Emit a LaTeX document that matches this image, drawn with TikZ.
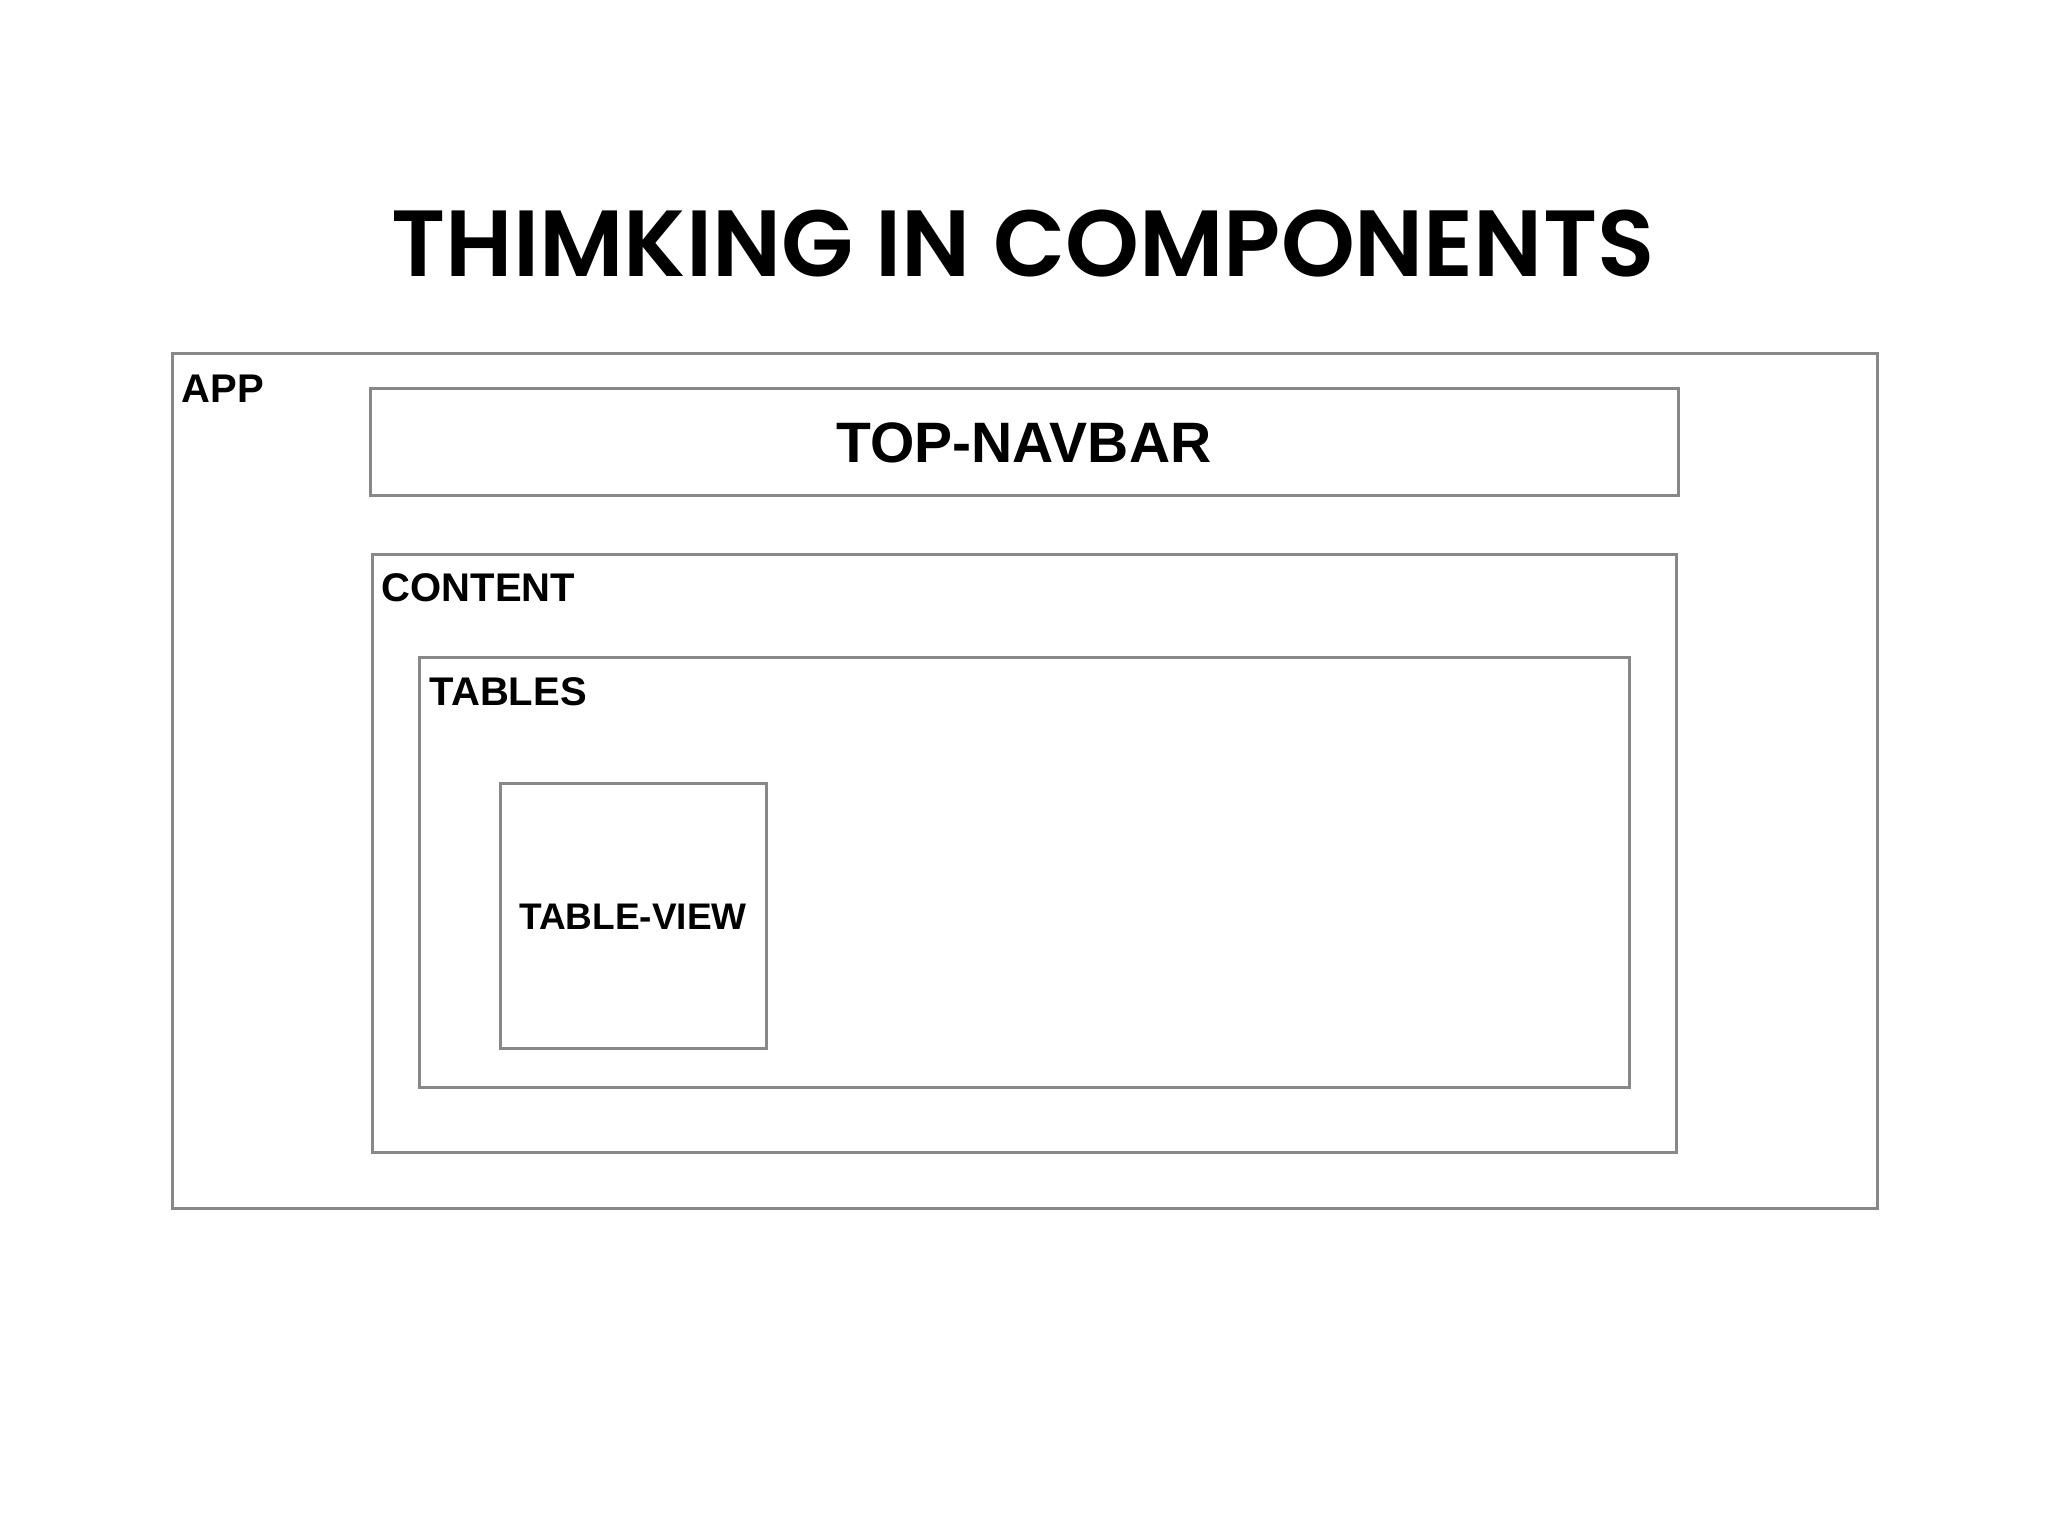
\documentclass[tikz,border=0pt]{standalone}
\usepackage{fontspec}
\setmainfont{Liberation Sans}
\newfontfamily\titlefont{Poppins}[UprightFont={* SemiBold}]
\definecolor{boxgray}{HTML}{888888}
\begin{document}
\begin{tikzpicture}[x=1pt, y=1pt,
    box/.style={draw=boxgray, line width=3pt, inner sep=0pt},
    lbl/.style={inner sep=0pt, anchor=base west, font=\bfseries\fontsize{40}{48}\selectfont}]
    \useasboundingbox (0,0) rectangle (2048,1536);

    \node[inner sep=0pt, anchor=base, font=\titlefont\fontsize{94}{108}\selectfont] (title) at (1023,1259) {THIMKING IN COMPONENTS};

    \node[box, minimum width=1705pt, minimum height=855pt] (app) at (1024.5,754.5) {};
    \node[box, minimum width=1308pt, minimum height=107pt, font=\bfseries\fontsize{57}{66}\selectfont] (navbar) at (1024,1093.5) {TOP-NAVBAR};
    \node[box, minimum width=1304pt, minimum height=598pt] (content) at (1024,682) {};
    \node[box, minimum width=1210pt, minimum height=430pt] (tables) at (1024,663) {};
    \node[box, minimum width=266pt, minimum height=265pt, font=\bfseries\fontsize{37}{44}\selectfont] (tableview) at (633,619.5) {TABLE-VIEW};

    \node[lbl] (applbl) at ([shift={(11,-50)}]app.north west) {APP};
    \node[lbl] (contentlbl) at ([shift={(11,-48)}]content.north west) {CONTENT};
    \node[lbl] (tableslbl) at ([shift={(12,-49)}]tables.north west) {TABLES};
\end{tikzpicture}
\end{document}
